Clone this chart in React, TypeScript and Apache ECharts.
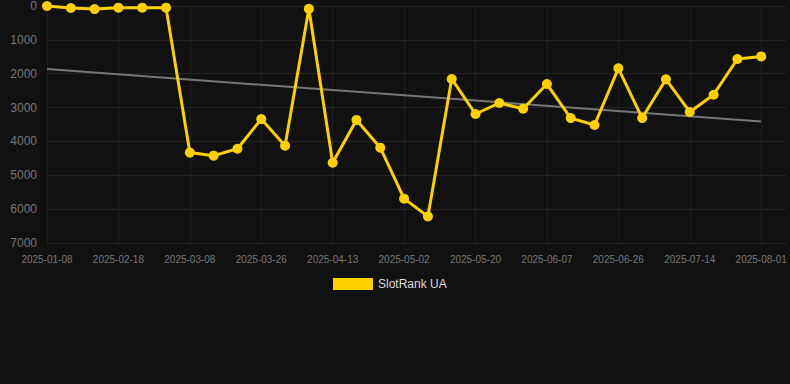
import React, { useEffect, useRef } from "react";
import * as echarts from "echarts";

const categories = [
  "2025-01-08", "2025-01-22", "2025-02-05", "2025-02-18", "2025-02-24", "2025-03-02",
  "2025-03-08", "2025-03-14", "2025-03-20", "2025-03-26", "2025-04-01", "2025-04-07",
  "2025-04-13", "2025-04-19", "2025-04-26", "2025-05-02", "2025-05-08", "2025-05-14",
  "2025-05-20", "2025-05-26", "2025-06-01", "2025-06-07", "2025-06-13", "2025-06-20",
  "2025-06-26", "2025-07-02", "2025-07-08", "2025-07-14", "2025-07-20", "2025-07-26",
  "2025-08-01", "",
];

const rankValues = [
  0, 60, 90, 50, 50, 50,
  4330, 4420, 4215, 3340, 4125, 80,
  4630, 3365, 4185, 5690, 6215, 2155,
  3190, 2865, 3035, 2305, 3310, 3515,
  1840, 3310, 2165, 3130, 2620, 1565,
  1490,
];

const trendStart = 1860;
const trendEnd = 3415;

export default function App() {
  const ref = useRef<HTMLDivElement>(null);
  useEffect(() => {
    if (!ref.current) return;
    const chart = echarts.init(ref.current, undefined, { renderer: "svg" });
    const n = rankValues.length;
    const trendData = rankValues.map((_, i) =>
      i === 0 || i === n - 1 ? trendStart + ((trendEnd - trendStart) * i) / (n - 1) : "-"
    );
    chart.setOption({
      animation: false,
      backgroundColor: "#111111",
      grid: { left: 47, right: 5, top: 6, bottom: 141 },
      legend: {
        data: [{ name: "SlotRank UA", icon: "rect" }],
        top: 278,
        left: 333,
        padding: 0,
        itemWidth: 40,
        itemHeight: 12,
        itemGap: 10,
        textStyle: { color: "#dddddd", fontSize: 12, fontFamily: "Liberation Sans, Arial, sans-serif" },
      },
      xAxis: {
        type: "category",
        data: categories,
        boundaryGap: false,
        axisLine: { show: false },
        axisTick: { show: false },
        axisLabel: {
          interval: 2,
          color: "#777777",
          fontSize: 10,
          margin: 11,
          fontFamily: "Liberation Sans, Arial, sans-serif",
        },
        splitLine: { show: true, interval: 2, lineStyle: { color: "#1f1f1f", width: 1 } },
      },
      yAxis: {
        type: "value",
        inverse: true,
        min: 0,
        max: 7000,
        interval: 1000,
        axisLine: { show: false },
        axisTick: { show: false },
        axisLabel: {
          color: "#777777",
          fontSize: 12,
          margin: 10,
          fontFamily: "Liberation Sans, Arial, sans-serif",
          formatter: (v: number) => String(v),
        },
        splitLine: { show: true, lineStyle: { color: "#242424", width: 1 } },
      },
      series: [
        {
          name: "Trend",
          type: "line",
          data: trendData,
          connectNulls: true,
          symbol: "none",
          lineStyle: { color: "#777777", width: 2 },
          itemStyle: { color: "#777777" },
          z: 1,
        },
        {
          name: "SlotRank UA",
          type: "line",
          data: rankValues,
          symbol: "circle",
          symbolSize: 10,
          lineStyle: { color: "#ffd000", width: 3 },
          itemStyle: { color: "#ffd000" },
          z: 2,
        },
      ],
    });
    return () => chart.dispose();
  }, []);
  return (
    <div
      ref={ref}
      style={{ position: "fixed", left: 0, top: 0, width: 790, height: 384 }}
    />
  );
}
